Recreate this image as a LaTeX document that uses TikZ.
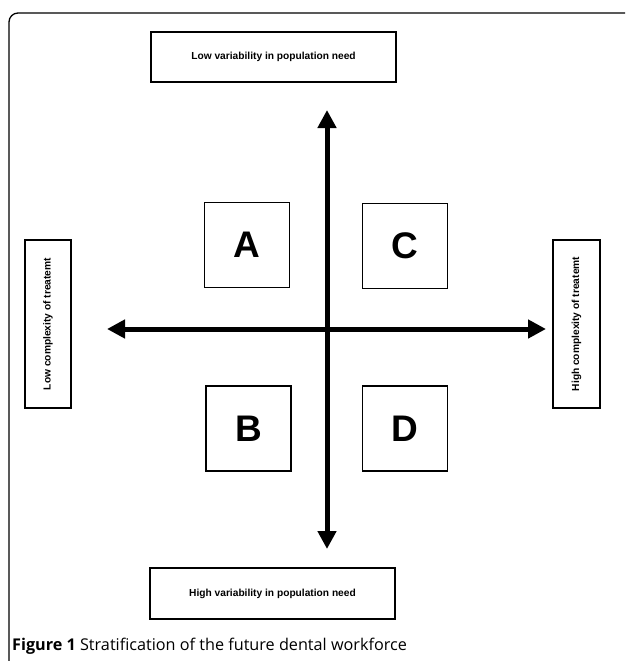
\documentclass[tikz,border=0pt]{standalone}
\usepackage{fontspec}
\setmainfont{Liberation Sans}
\newfontfamily\capfont{Open Sans}
\usetikzlibrary{arrows.meta}

\begin{document}
\begin{tikzpicture}[x=1pt,y=-1pt,
    labelbox/.style={draw,line width=1.4pt,inner sep=0pt,
      font=\bfseries\fontsize{10.2}{12}\selectfont},
    quad/.style={draw,line width=1.1pt,minimum size=85pt,inner sep=0pt,
      font=\bfseries\fontsize{37}{37}\selectfont},
    axis/.style={{Triangle[length=18pt,width=18pt]}-{Triangle[length=18pt,width=18pt]},
      line width=5pt}]
    \useasboundingbox (0,0) rectangle (625,661);
    %FRAME
    \draw[line width=1.3pt,rounded corners=9pt] (9,661) -- (9,13) -- (625,13);

    %LABELS
    \node[labelbox,minimum width=245pt,minimum height=50pt] (low need) at (273.5,57)
      {Low variability in population need};
    \node[labelbox,minimum width=245pt,minimum height=51pt] (high need) at (272.5,593.5)
      {High variability in population need};
    \node[labelbox,rotate=90,minimum width=168pt,minimum height=46pt] (low cplx) at (48,324)
      {Low complexity of treatemt};
    \node[labelbox,rotate=90,minimum width=168pt,minimum height=47pt] (high cplx) at (576.5,324)
      {High complexity of treatemt};

    %AXES
    \coordinate (west end) at (107,329);
    \coordinate (east end) at (546,329);
    \coordinate (north end) at (327,110);
    \coordinate (south end) at (327,549);
    \draw[axis] (west end) -- (east end);
    \draw[axis] (north end) -- (south end);

    %QUADRANTS
    \node[quad] (A) at (247,245) {A};
    \node[quad] (C) at (405,246) {C};
    \node[quad] (B) at (248.5,428.5) {B};
    \node[quad] (D) at (405,428.5) {D};

    \node[anchor=base west,inner sep=0pt,font=\capfont\fontsize{16.2}{19}\selectfont] (caption)
      at (12,650) {\textbf{Figure 1} Stratification of the future dental workforce};
\end{tikzpicture}
\end{document}
